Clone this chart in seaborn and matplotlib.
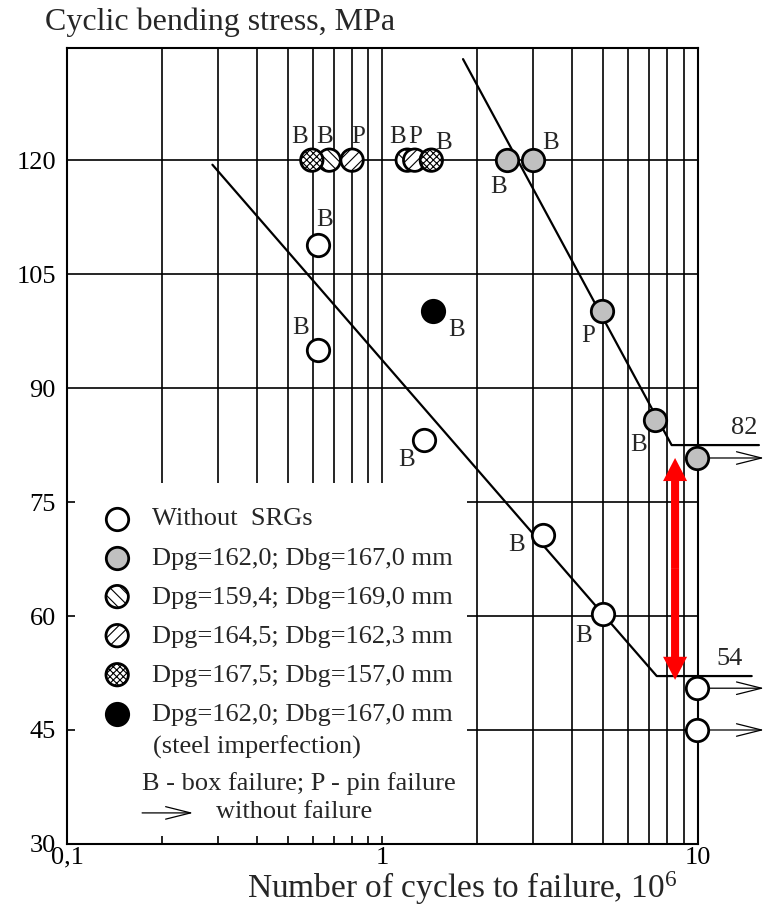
import numpy as np
import seaborn as sns
import matplotlib.pyplot as plt
import matplotlib.patches as mpatches
from matplotlib.ticker import FixedLocator, NullFormatter

# cycles to failure (10^6) and stress (MPa)
no_srg_x = [0.625, 0.625, 1.35, 3.23, 5.0, 9.9, 9.9]
no_srg_y = [108.8, 95.0, 83.2, 70.7, 60.3, 50.5, 45.0]
no_srg_lbl = ["B", "B", "B", "B", "B", "", ""]

gray_x = [2.48, 3.0, 4.96, 7.31, 9.9]
gray_y = [120, 120, 100.1, 85.8, 80.8]
gray_lbl = ["B", "B", "P", "B", ""]

back_x = [0.678, 1.198]
back_y = [120, 120]
back_lbl = ["B", "B"]

slash_x = [0.801, 1.265]
slash_y = [120, 120]
slash_lbl = ["P", "P"]

cross_x = [0.597, 1.428]
cross_y = [120, 120]
cross_lbl = ["B", "B"]

black_x = [1.445]
black_y = [100.1]
black_lbl = ["B"]

# runouts (without failure)
runout_x = [9.9, 9.9, 9.9]
runout_y = [80.8, 50.5, 45.0]

# fatigue curves
lower_x = [0.289, 7.4, 14.8]
lower_y = [119.4, 52.1, 52.1]
upper_x = [1.80, 8.25, 15.6]
upper_y = [133.3, 82.5, 82.5]
lower_limit_lbl = "54"
upper_limit_lbl = "82"

gap_x = 8.46
gap_y = [51.6, 80.8]

xticks = [0.1, 1, 10]
xticklabels = ["0,1", "1", "10"]
xminor = [0.2, 0.3, 0.4, 0.5, 0.6, 0.7, 0.8, 0.9, 2, 3, 4, 5, 6, 7, 8, 9]
yticks = [30, 45, 60, 75, 90, 105, 120]

sns.set_style("ticks")
plt.rcParams["font.family"] = ["Liberation Serif", "DejaVu Serif"]
plt.rcParams["mathtext.fontset"] = "custom"
plt.rcParams["mathtext.rm"] = "Liberation Serif"
plt.rcParams["mathtext.default"] = "regular"
plt.rcParams["hatch.linewidth"] = 0.8
plt.rcParams["hatch.color"] = "black"

fig = plt.figure(figsize=(7.64, 9.07), dpi=100)
ax = fig.add_axes([0.0877, 0.0695, 0.8259, 0.8779])
ax.set_xscale("log")
ax.set_xlim(0.1, 10)
ax.set_ylim(30, 134.8)

ax.xaxis.set_major_locator(FixedLocator(xticks))
ax.set_xticklabels(xticklabels)
ax.xaxis.set_minor_locator(FixedLocator(xminor))
ax.xaxis.set_minor_formatter(NullFormatter())
ax.set_yticks(yticks)
ax.grid(True, which="both", axis="x", color="black", lw=1.2)
ax.grid(True, which="major", axis="y", color="black", lw=1.2)
ax.set_axisbelow(True)
ax.tick_params(which="both", length=0, labelsize=19, colors="black")
ax.tick_params(axis="x", pad=2)
ax.tick_params(axis="y", pad=8)
for s in ax.spines.values():
    s.set_linewidth(1.5)
    s.set_color("black")

# white area behind the legend, leaves short stubs of the grid as ticks
ax.add_patch(mpatches.Rectangle((0.013, 0.010), 0.621, 0.4433, transform=ax.transAxes,
                                facecolor="white", edgecolor="none", zorder=1))

sns.lineplot(x=lower_x, y=lower_y, sort=False, estimator=None, color="black", lw=1.6, ax=ax)
sns.lineplot(x=upper_x, y=upper_y, sort=False, estimator=None, color="black", lw=1.6, ax=ax)
for ln in ax.lines:
    ln.set_clip_on(False)
    ln.set_zorder(2)

ax.text(14.0, 84.8, upper_limit_lbl, fontsize=19, ha="center", va="center")
ax.text(12.6, 54.4, lower_limit_lbl, fontsize=19, ha="center", va="center")

# runout arrows
for ry in runout_y:
    ax.annotate("", xy=(16.2, ry), xytext=(10.8, ry), annotation_clip=False,
                arrowprops=dict(arrowstyle="->,head_length=1.2,head_width=0.3", lw=0.9,
                                color="black", mutation_scale=15, shrinkA=0, shrinkB=0))

# red double arrow
gap_mid = (gap_y[0] + gap_y[1]) / 2
for end in gap_y:
    ax.annotate("", xy=(gap_x, end), xytext=(gap_x, gap_mid),
                arrowprops=dict(arrowstyle="simple,head_length=1.66,head_width=1.73,tail_width=0.58",
                                mutation_scale=10, fc="red", ec="none", shrinkA=0, shrinkB=0))

ms = 260
groups = [
    (no_srg_x, no_srg_y, "white", None, "Without  SRGs"),
    (gray_x, gray_y, "#c0c0c0", None, "Dpg=162,0; Dbg=167,0 mm"),
    (back_x, back_y, "white", "\\\\\\", "Dpg=159,4; Dbg=169,0 mm"),
    (slash_x, slash_y, "white", "///", "Dpg=164,5; Dbg=162,3 mm"),
    (cross_x, cross_y, "white", "xxxxx", "Dpg=167,5; Dbg=157,0 mm"),
    (black_x, black_y, "black", None, "Dpg=162,0; Dbg=167,0 mm"),
]
for i, (gx, gy, fc, hatch, lbl) in enumerate(groups):
    kw = {"hatch": hatch} if hatch else {}
    sns.scatterplot(x=gx, y=gy, s=ms, color=fc, edgecolor="black", linewidth=2.0,
                    label=lbl, zorder=3 + i * 0.1, clip_on=False, ax=ax, **kw)

# failure labels (offsets in pixels)
offsets = {
    "no": [(6, 25), (-18, 22), (-17, -20), (-27, -10), (-19, -22)],
    "gray": [(-8, -27), (18, 17), (-14, -25), (-16, -25)],
    "back": [(-5, 23), (-10, 23)],
    "slash": [(6, 23), (0, 23)],
    "cross": [(-12, 23), (12, 17)],
    "black": [(24, -19)],
}
for key, gx, gy, gl in [("no", no_srg_x, no_srg_y, no_srg_lbl),
                        ("gray", gray_x, gray_y, gray_lbl),
                        ("back", back_x, back_y, back_lbl),
                        ("slash", slash_x, slash_y, slash_lbl),
                        ("cross", cross_x, cross_y, cross_lbl),
                        ("black", black_x, black_y, black_lbl)]:
    for (px, py, t), off in zip(zip(gx, gy, gl), offsets[key]):
        if t:
            ax.annotate(t, xy=(px, py), xytext=off, textcoords="offset pixels",
                        fontsize=18, ha="center", va="center", zorder=5)

handles, labels = ax.get_legend_handles_labels()
leg = ax.legend(handles, labels, loc="upper left", bbox_to_anchor=(0.0586, 0.4232),
                frameon=False, fontsize=19, handlelength=1.0, handletextpad=0.82,
                labelspacing=0.59, borderpad=0, borderaxespad=0, markerscale=1.0)
leg.set_zorder(4)

ax.text(0.136, 0.1218, "(steel imperfection)", transform=ax.transAxes, fontsize=19,
        ha="left", va="center", zorder=4)
ax.text(0.119, 0.0753, "B - box failure; P - pin failure", transform=ax.transAxes, fontsize=19,
        ha="left", va="center", zorder=4)
ax.text(0.236, 0.040, "without failure", transform=ax.transAxes, fontsize=19,
        ha="left", va="center", zorder=4)
ax.annotate("", xy=(0.200, 0.039), xytext=(0.119, 0.039), xycoords="axes fraction",
            arrowprops=dict(arrowstyle="->,head_length=1.2,head_width=0.3", lw=0.9,
                            color="black", mutation_scale=15, shrinkA=0, shrinkB=0), zorder=4)

ax.set_xlabel("")
ax.set_ylabel("")
fig.text(45 / 764, 1 - 22 / 907, "Cyclic bending stress, MPa", fontsize=23, ha="left", va="center")
fig.text(0.5 * (202 + 722) / 764, 1 - 898 / 907, "Number of cycles to failure, 10$^6$", fontsize=24,
         ha="center", va="baseline")

fig.savefig("out.png", dpi=100)
